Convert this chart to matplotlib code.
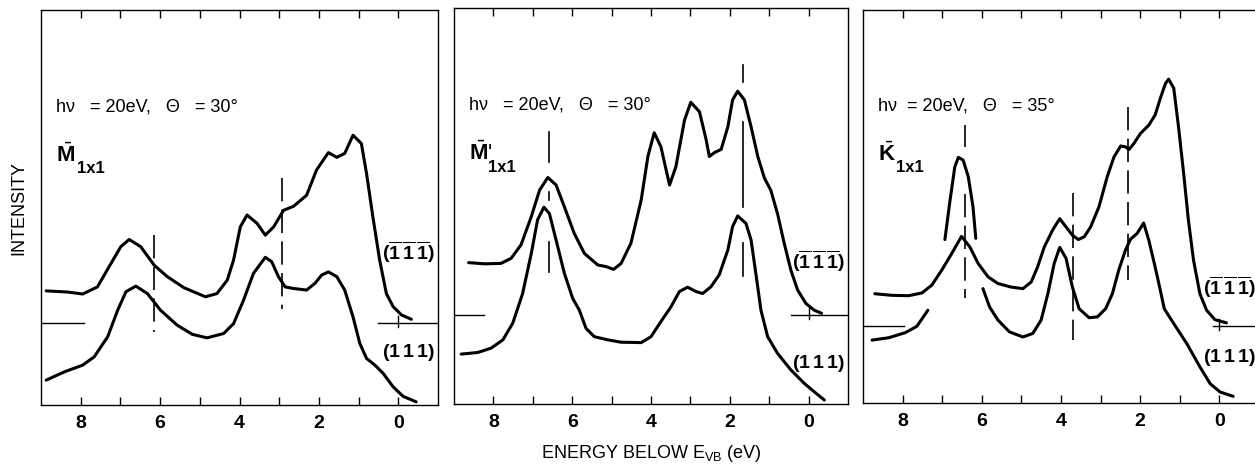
import numpy as np
import matplotlib
matplotlib.use("Agg")
import matplotlib.pyplot as plt

plt.rcParams['font.family'] = ['Liberation Sans', 'DejaVu Sans']
plt.rcParams['mathtext.fontset'] = 'custom'
plt.rcParams['mathtext.rm'] = 'Liberation Sans'
plt.rcParams['mathtext.bf'] = 'Liberation Sans:bold'

nan = np.nan

# ---- panel 1: M 1x1, hv=20eV, theta=30 ----
p1_up_E = [8.87, 8.33, 7.95, 7.58, 7.24, 6.99, 6.78, 6.49, 6.15, 5.82, 5.40, 4.86, 4.57, 4.31,
           4.15, 3.98, 3.81, 3.56, 3.35, 3.14, 2.89, 2.64, 2.31, 2.06, 1.76, 1.55, 1.35, 1.14,
           0.93, 0.80, 0.64, 0.47, 0.30, 0.13, -0.08, -0.33]
p1_up_I = [28.9, 28.6, 28.1, 29.9, 35.8, 40.1, 41.9, 40.1, 35.4, 32.5, 29.7, 27.4, 28.2, 31.6,
           36.7, 45.1, 48.1, 46.0, 43.0, 45.1, 49.3, 50.3, 53.1, 59.5, 63.9, 62.7, 63.7, 68.3,
           66.2, 58.6, 47.6, 36.7, 28.2, 24.9, 22.8, 21.7]
p1_lo_E = [8.87, 8.41, 7.95, 7.66, 7.32, 7.07, 6.86, 6.61, 6.32, 5.99, 5.57, 5.19, 4.82, 4.40,
           4.15, 3.90, 3.65, 3.35, 3.19, 3.02, 2.85, 2.64, 2.31, 2.10, 1.93, 1.76, 1.55, 1.35,
           1.14, 0.97, 0.80, 0.59, 0.38, 0.13, -0.12, -0.45]
p1_lo_I = [6.3, 8.4, 10.1, 12.2, 17.3, 24.0, 28.7, 30.1, 28.2, 24.0, 20.2, 17.9, 17.0, 18.1,
           20.6, 26.5, 33.3, 37.4, 36.3, 32.5, 29.9, 29.5, 29.1, 30.8, 32.9, 33.7, 32.5, 29.1,
           22.3, 15.6, 11.8, 10.1, 8.0, 4.6, 2.2, 0.8]
p1_marks = [(6.15, 43.0, 18.5), (2.93, 57.4, 24.4)]
p1_base = 20.8

# ---- panel 2: M' 1x1, hv=20eV, theta=30 ----
p2_up_E = [8.63, 8.23, 7.81, 7.55, 7.30, 7.04, 6.83, 6.62, 6.41, 6.20, 5.95, 5.69, 5.35, 5.14,
           4.95, 4.76, 4.51, 4.25, 4.08, 3.92, 3.75, 3.53, 3.37, 3.15, 2.99, 2.77, 2.60, 2.52,
           2.39, 2.22, 2.05, 1.93, 1.80, 1.63, 1.46, 1.29, 1.12, 0.96, 0.79, 0.62, 0.45, 0.28,
           0.07, -0.14, -0.33]
p2_up_I = [35.7, 35.4, 35.5, 36.8, 40.2, 47.3, 54.0, 57.2, 55.3, 49.8, 43.1, 38.0, 35.1, 34.7,
           34.0, 35.5, 40.6, 51.5, 62.5, 68.5, 65.0, 55.3, 59.9, 71.7, 76.2, 73.8, 66.7, 62.5,
           63.5, 64.3, 70.0, 76.8, 79.0, 76.8, 70.0, 62.5, 57.0, 54.0, 48.1, 40.6, 33.8, 28.8,
           25.4, 23.7, 22.9]
p2_lo_E = [8.82, 8.40, 8.06, 7.76, 7.51, 7.26, 7.04, 6.88, 6.72, 6.58, 6.41, 6.20, 5.99, 5.82,
           5.65, 5.44, 5.10, 4.76, 4.25, 4.00, 3.75, 3.49, 3.28, 3.07, 2.86, 2.69, 2.48, 2.27,
           2.05, 1.93, 1.80, 1.59, 1.46, 1.34, 1.21, 1.04, 0.79, 0.45, 0.11, -0.14, -0.40]
p2_lo_I = [12.6, 13.0, 14.1, 16.2, 20.4, 27.9, 38.0, 46.5, 49.7, 48.1, 41.4, 33.0, 26.7, 23.7,
           19.1, 17.0, 16.2, 15.6, 15.5, 17.0, 20.8, 24.6, 28.4, 29.5, 28.4, 27.9, 29.6, 32.6,
           38.9, 44.8, 47.5, 45.6, 41.4, 33.0, 23.7, 17.0, 12.8, 8.6, 5.2, 3.1, 1.0]
p2_marks = [(6.60, 68.8, 61.2), (6.60, 53.6, 51.5), (6.60, 41.0, 33.4),
            (1.66, 85.6, 81.4), (1.66, 71.3, 49.8), (1.66, 40.6, 32.2)]
p2_base = 22.5

# ---- panel 3: K 1x1, hv=20eV, theta=35 ----
p3_up_E = [8.70, 8.27, 7.85, 7.51, 7.26, 7.01, 6.76, 6.51, 6.30, 6.09, 5.84, 5.59, 5.26, 4.96,
           4.75, 4.59, 4.42, 4.21, 4.03, 3.87, 3.71, 3.56, 3.41, 3.25, 3.04, 2.83, 2.66, 2.49,
           2.37, 2.28, 2.16, 1.99, 1.78, 1.62, 1.49, 1.36, 1.28, 1.15, 1.03, 0.90, 0.78, 0.65,
           0.49, 0.32, 0.11, -0.18]
p3_up_I = [27.8, 27.4, 27.3, 28.0, 30.0, 33.8, 38.0, 42.4, 39.7, 35.5, 32.1, 30.4, 29.5, 29.1,
           30.8, 34.6, 39.7, 44.0, 46.9, 44.8, 42.7, 41.6, 42.3, 44.8, 49.9, 57.6, 62.6, 65.4,
           65.2, 64.5, 66.0, 68.6, 70.7, 73.3, 77.5, 81.3, 82.4, 80.1, 70.3, 58.4, 46.5, 36.3,
           27.8, 23.6, 21.2, 20.4]
# lower curve is drawn in three broken pieces (nan = gap)
p3_lo_E = [8.77, 8.35, 7.93, 7.64, 7.36, nan,
           6.93, 6.80, 6.68, 6.59, 6.47, 6.34, 6.22, 6.15, nan,
           5.97, 5.80, 5.59, 5.30, 4.96, 4.71, 4.50, 4.33, 4.17, 4.03, 3.87, 3.71, 3.54, 3.29,
           3.08, 2.87, 2.70, 2.54, 2.37, 2.24, 2.08, 1.91, 1.78, 1.62, 1.49, 1.39, 1.15, 0.82,
           0.49, 0.23, -0.02, -0.35]
p3_lo_I = [16.0, 16.6, 17.9, 19.5, 23.6, nan,
           41.6, 51.6, 60.1, 62.5, 61.8, 57.6, 49.9, 41.9, nan,
           29.1, 24.4, 21.1, 18.1, 16.8, 17.7, 21.1, 27.8, 35.5, 39.6, 36.8, 29.5, 24.0, 21.7,
           21.9, 24.0, 27.8, 33.8, 38.9, 41.7, 43.1, 45.8, 41.4, 34.6, 28.7, 24.0, 20.2, 15.1,
           9.2, 4.9, 2.8, 1.7]
p3_marks = [(6.41, 70.7, 65.2), (6.41, 53.3, 26.6), (3.69, 53.5, 16.0), (2.31, 75.2, 31.2)]
p3_base = 19.5

titles = ["hν   = 20eV,   Θ   = 30°", "hν   = 20eV,   Θ   = 30°", "hν  = 20eV,   Θ   = 35°"]
syms = [r"$\bar{\mathbf{M}}$", r"$\bar{\mathbf{M}}$'", r"$\bar{\mathbf{K}}$"]
sub_dx = [15, 14, 13]
lab_up = r"$\mathbf{(\overline{1}\,\overline{1}\,\overline{1})}$"
lab_lo = r"$\mathbf{(1\,1\,1)}$"

fig = plt.figure(figsize=(12.55, 4.68), dpi=100)
rects = [[0.0327, 0.1346, 0.3163, 0.844],
         [0.3618, 0.1368, 0.3139, 0.846],
         [0.6876, 0.1389, 0.3155, 0.8397]]

panels = [
    (p1_up_E, p1_up_I, p1_lo_E, p1_lo_I, p1_marks, p1_base, True, (7.93, 0.5), (38.8, 13.2)),
    (p2_up_E, p2_up_I, p2_lo_E, p2_lo_I, p2_marks, p2_base, False, (8.23, 0.45), (36.0, 10.3)),
    (p3_up_E, p3_up_I, p3_lo_E, p3_lo_I, p3_marks, p3_base, True, (7.97, 0.15), (29.5, 11.7)),
]

lw = 2.2
for k, (uE, uI, lE, lI, marks, base, dashed, cut, laby) in enumerate(panels):
    ax = fig.add_axes(rects[k])
    ax.plot(uE, uI, color='black', lw=lw, solid_capstyle='round', solid_joinstyle='round')
    ax.plot(lE, lI, color='black', lw=lw, solid_capstyle='round', solid_joinstyle='round')
    for (e, y0, y1) in marks:
        if dashed:
            ax.plot([e, e], [y0, y1], color='black', lw=1.2, linestyle=(0, (14, 5)))
        else:
            ax.plot([e, e], [y0, y1], color='black', lw=1.2)
    # zero lines
    ax.plot([9, cut[0]], [base, base], color='black', lw=1.0)
    ax.plot([cut[1], -1], [base, base], color='black', lw=1.0)
    ax.plot([0, 0], [base - 1.0, base + 1.8], color='black', lw=1.0)

    ax.set_xlim(9, -1)
    ax.set_ylim(0, 100)
    ax.set_xticks([0, 2, 4, 6, 8])
    ax.set_xticklabels(['0', '2', '4', '6', '8'], fontweight='bold', fontsize=14)
    ax.set_xticks([1, 3, 5, 7], minor=True)
    ax.tick_params(axis='x', which='both', direction='in', top=True, length=6, width=1.0, pad=7)
    ax.set_yticks([])
    for s in ax.spines.values():
        s.set_linewidth(1.0)

    ax.text(8.62, 75.5, titles[k], fontsize=13, ha='left', va='center')
    ax.annotate(syms[k], (8.62, 61.5), fontsize=16, ha='left', va='baseline')
    ax.annotate("1x1", (8.62, 61.5), xytext=(sub_dx[k], -8), textcoords='offset points',
                fontsize=12, fontweight='bold', ha='left', va='baseline')
    ax.text(0.42, laby[0], lab_up, fontsize=14, ha='left', va='center')
    ax.text(0.42, laby[1], lab_lo, fontsize=14, ha='left', va='center')
    if k == 0:
        ax.set_ylabel("INTENSITY", fontsize=13, labelpad=10)
    if k == 1:
        ax.set_xlabel(r"ENERGY BELOW E$_{\mathrm{VB}}$ (eV)", fontsize=13, labelpad=9)

fig.savefig("out.png", dpi=100)
